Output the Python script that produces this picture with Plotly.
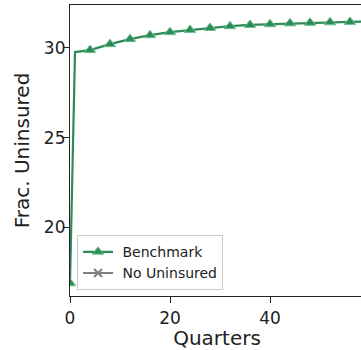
import plotly.graph_objects as go

quarters = [0, 1, 4, 8, 12, 16, 20, 24, 28, 32, 36, 40, 44, 48, 52, 56, 60]
benchmark = [16.9, 29.76, 29.87, 30.20, 30.48, 30.70, 30.87, 30.99, 31.10, 31.20,
             31.27, 31.31, 31.36, 31.39, 31.42, 31.44, 31.46]
marker_shown = [1, 0, 1, 1, 1, 1, 1, 1, 1, 1, 1, 1, 1, 1, 1, 1, 1]
no_uninsured_x = [None]
no_uninsured_y = [None]

green = "#2e8b57"
fig = go.Figure()
fig.add_trace(go.Scatter(
    x=quarters, y=benchmark, mode="lines+markers", name=" Benchmark",
    line=dict(color=green, width=2.2),
    marker=dict(symbol="triangle-up", size=10, color=green, opacity=marker_shown,
                line=dict(color="#6cc08f", width=1)),
))
fig.add_trace(go.Scatter(
    x=no_uninsured_x, y=no_uninsured_y, mode="lines+markers", name=" No Uninsured",
    line=dict(color="gray", width=2.2),
    marker=dict(symbol="x-thin", size=8, color="gray", line=dict(color="gray", width=2)),
))

font = "DejaVu Sans"
fig.update_layout(
    width=364, height=350,
    margin=dict(l=70, r=0, t=5, b=52),
    plot_bgcolor="white", paper_bgcolor="white",
    font=dict(family=font, color="#222", size=17),
    showlegend=True,
    legend=dict(x=0.024, y=0.02, xanchor="left", yanchor="bottom",
                bgcolor="rgba(255,255,255,0.8)", bordercolor="#ccc", borderwidth=1,
                font=dict(size=14, family=font), tracegroupgap=0, itemwidth=30,
                orientation="v"),
    xaxis=dict(range=[0, 58.8], tickvals=[0, 20, 40], ticks="outside", ticklen=6,
               tickcolor="#222", showline=True, linecolor="#222", linewidth=1.2,
               mirror=True, showgrid=False, zeroline=False,
               title=dict(text="Quarters", standoff=8), tickfont=dict(size=17)),
    yaxis=dict(range=[16.19, 32.38], tickvals=[20, 25, 30], ticks="outside", ticklen=6,
               tickcolor="#222", showline=True, linecolor="#222", linewidth=1.2,
               mirror=False, showgrid=False, zeroline=False, ticklabelstandoff=-6,
               title=dict(text="Frac. Uninsured", standoff=8), tickfont=dict(size=17)),
)
fig.write_html("out.html")
